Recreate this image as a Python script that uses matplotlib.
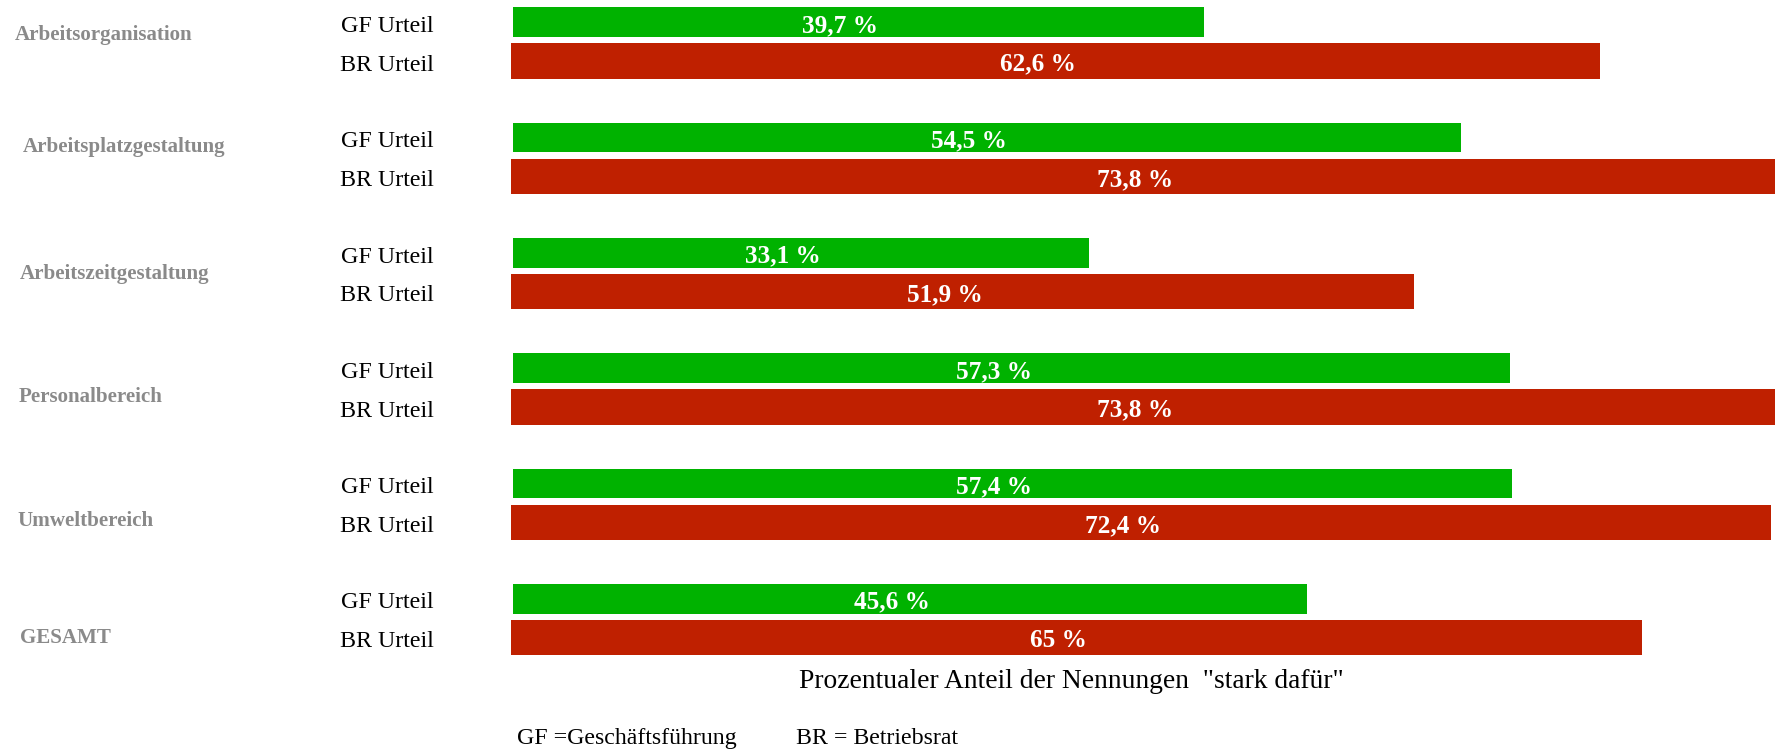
import numpy as np
import matplotlib
matplotlib.use("Agg")
import matplotlib.pyplot as plt

# ---- data -------------------------------------------------------------
categories = ["Arbeitsorganisation", "Arbeitsplatzgestaltung", "Arbeitszeitgestaltung",
              "Personalbereich", "Umweltbereich", "GESAMT"]
gf_values = [39.7, 54.5, 33.1, 57.3, 57.4, 45.6]   # Geschäftsführung
br_values = [62.6, 73.8, 51.9, 73.8, 72.4, 65.0]   # Betriebsrat
series_labels = ["GF Urteil", "BR Urteil"]
axis_title = 'Prozentualer Anteil der Nennungen  "stark dafür"'
legend_gf = "GF =Geschäftsführung"
legend_br = "BR = Betriebsrat"

# ---- layout (pixels of the 1775 x 749 canvas) -------------------------
W, H = 1775, 749
DPI = 100
X0 = 511.0            # pixel where 0 % sits
PX_PER_PCT = 17.4     # horizontal scale
GROUP_PX = 115.3      # distance between category groups
FIRST_CENTER = 41.65  # centre of the first group
PAIR_OFF = 0.168      # half distance between GF and BR bar centres (group units)
GF_H, BR_H = 0.258, 0.306
GF_INSET = 0.12

cat_x_px = [15, 22.7, 20, 19, 17, 20]
cat_base_px = [40, 151.7, 279, 402, 526, 643]

GREEN = "#00b200"
RED = "#bf2000"
GRAY = "#8a8a8a"
SERIF = "Liberation Serif"

fig = plt.figure(figsize=(W / DPI, H / DPI), dpi=DPI)
ax = fig.add_axes([X0 / W, 0, 1 - X0 / W, 1])
ax.set_xlim(0, (W - X0) / PX_PER_PCT)
ax.set_ylim((H - FIRST_CENTER) / GROUP_PX, -FIRST_CENTER / GROUP_PX)
ax.axis("off")

idx = np.arange(len(categories))
gy = idx - PAIR_OFF
ry = idx + PAIR_OFF

ax.barh(gy, gf_values, left=GF_INSET, height=GF_H, color=GREEN, linewidth=0)
ax.barh(ry, br_values, height=BR_H, color=RED, linewidth=0)

def fmt(v):
    return f"{v:g}".replace(".", ",") + " %"

px2pt = 72 / DPI
for y, v, left in list(zip(gy, gf_values, [GF_INSET] * 6)) + list(zip(ry, br_values, [0] * 6)):
    ax.annotate(fmt(v), xy=(left + v / 2, y), xytext=(-18 * px2pt, -9.7 * px2pt),
                textcoords="offset points", ha="center", va="baseline",
                color="white", fontsize=18.2, fontweight="bold", family=SERIF,
                annotation_clip=False)

# series labels in front of the bars
for i in idx:
    for y, lab in ((gy[i], series_labels[0]), (ry[i], series_labels[1])):
        ax.annotate(lab, xy=(0, y), xycoords=("axes fraction", "data"),
                    xytext=((434 - X0) * px2pt, -9.7 * px2pt), textcoords="offset points",
                    ha="right", va="baseline", fontsize=17.3, family=SERIF,
                    color="black", annotation_clip=False)

# category names on the far left
for name, xp, bp in zip(categories, cat_x_px, cat_base_px):
    fig.text(xp / W, 1 - bp / H, name, ha="left", va="baseline", fontsize=15.1,
             fontweight="bold", family=SERIF, color=GRAY)

fig.text(1071 / W, 1 - 688 / H, axis_title, ha="center", va="baseline",
         fontsize=19.8, family=SERIF, color="black")
fig.text(517 / W, 1 - 744 / H, legend_gf, ha="left", va="baseline",
         fontsize=17.2, family=SERIF, color="black")
fig.text(796 / W, 1 - 744 / H, legend_br, ha="left", va="baseline",
         fontsize=17.2, family=SERIF, color="black")

fig.savefig("out.png", dpi=DPI, facecolor="white")
